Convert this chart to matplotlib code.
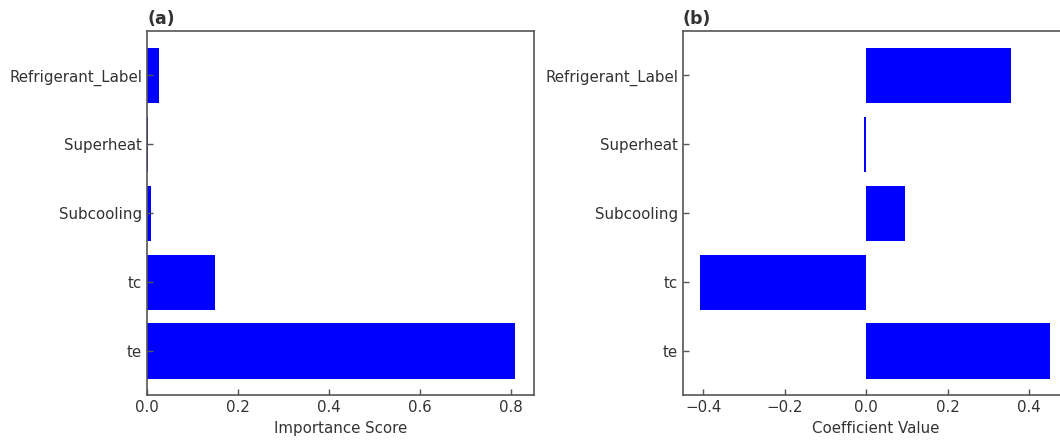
import matplotlib.pyplot as plt
from matplotlib.ticker import MultipleLocator

# feature names (bottom to top)
features = ['te', 'tc', 'Subcooling', 'Superheat', 'Refrigerant_Label']

# (a) importance scores
importance = [0.811, 0.150, 0.008, 0.002, 0.027]

# (b) coefficient values
coefficients = [0.452, -0.407, 0.096, -0.0065, 0.355]

plt.rcParams['font.family'] = 'DejaVu Sans'
text_col = '#333333'
spine_col = '#555555'

fig = plt.figure(figsize=(10.6, 4.41), dpi=100)
ax1 = fig.add_axes([0.1387, 0.104, 0.365, 0.825])
ax2 = fig.add_axes([0.6443, 0.104, 0.3630, 0.825])


def style(ax):
    for s in ax.spines.values():
        s.set_color(spine_col)
        s.set_linewidth(1.2)
    ax.tick_params(direction='in', colors=spine_col, labelcolor=text_col,
                   length=4, width=1, labelsize=10.8)
    ax.xaxis.set_major_locator(MultipleLocator(0.2))
    ax.xaxis.label.set_color(text_col)


ax1.barh(features, importance, color='blue')
ax1.set_xlabel('Importance Score', fontsize=10.8)
ax1.set_title('(a)', loc='left', fontweight='bold', color=text_col, fontsize=12.5, pad=5)
style(ax1)

ax2.barh(features, coefficients, color='blue')
ax2.set_xlabel('Coefficient Value', fontsize=10.8)
ax2.set_title('(b)', loc='left', fontweight='bold', color=text_col, fontsize=12.5, pad=5)
style(ax2)

fig.savefig('out.png', dpi=100)
